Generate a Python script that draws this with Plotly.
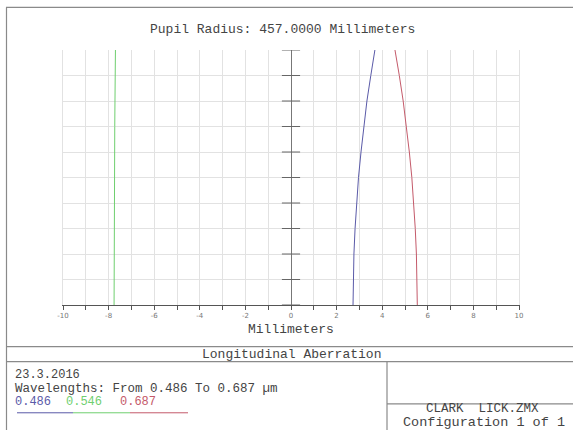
import plotly.graph_objects as go

# ---- data ----
pupil = [0.0, 0.1, 0.2, 0.3, 0.4, 0.5, 0.6, 0.7, 0.8, 0.9, 1.0]
blue_486 = [2.72, 2.73, 2.76, 2.81, 2.87, 2.96, 3.07, 3.19, 3.33, 3.50, 3.68]
green_546 = [-7.76, -7.76, -7.76, -7.75, -7.75, -7.74, -7.74, -7.73, -7.72, -7.71, -7.70]
red_687 = [5.54, 5.53, 5.50, 5.45, 5.38, 5.30, 5.19, 5.06, 4.92, 4.75, 4.56]
wavelengths = ["0.486", "0.546", "0.687"]
colors = ["#5a5aa8", "#6fcf6f", "#c45a6a"]
x_tick_vals = [-10, -8, -6, -4, -2, 0, 2, 4, 6, 8, 10]
x_tick_text = ["-10", "-8", "-6", "-4", "-2", "0", "2", "4", "6", "8", "10"]
center_ticks_y = [0.0, 0.1, 0.2, 0.3, 0.4, 0.5, 0.6, 0.7, 0.8, 0.9, 1.0]

W, H = 573, 430
L, R, T, B = 63, 519, 50, 305.5
MONO = "Courier New, Liberation Mono, monospace"
TXT = "#444444"


def px(x):
    return (x - L) / (R - L)


def py(y):
    return (B - y) / (B - T)


fig = go.Figure()
for xs, c in zip([blue_486, green_546, red_687], colors):
    fig.add_trace(go.Scatter(x=xs, y=pupil, mode="lines",
                             line=dict(color=c, width=1), showlegend=False,
                             hoverinfo="skip"))
# tick marks on the central vertical axis
fig.add_trace(go.Scatter(x=[0] * len(center_ticks_y), y=center_ticks_y, mode="markers",
                         marker=dict(symbol="line-ew", size=13,
                                     line=dict(width=1, color="#666666")),
                         showlegend=False, hoverinfo="skip"))

shapes = []


def hline(y, x0, x1, color="#8a8a8a", w=1.2):
    shapes.append(dict(type="line", xref="paper", yref="paper",
                       x0=px(x0), x1=px(x1), y0=py(y), y1=py(y),
                       line=dict(color=color, width=w)))


def vline(x, y0, y1, color="#8a8a8a", w=1.2):
    shapes.append(dict(type="line", xref="paper", yref="paper",
                       x0=px(x), x1=px(x), y0=py(y0), y1=py(y1),
                       line=dict(color=color, width=w)))


# outer frame and bottom panel lines
hline(7.3, 6, 580)
vline(6.5, 7.3, 440)
hline(347.3, 6, 580)
hline(362.3, 6, 580)
vline(387, 362.3, 440)
hline(404.5, 387, 580)
# wavelength legend lines
hline(413.5, 17, 73, colors[0], 1)
hline(413.5, 73, 130, colors[1], 1)
hline(413.5, 130, 188, colors[2], 1)

annotations = []


def text(s, x, y, size=13, color=TXT, anchor="center"):
    annotations.append(dict(text=s, xref="paper", yref="paper", x=px(x), y=py(y),
                            xanchor=anchor, yanchor="middle", showarrow=False,
                            font=dict(family=MONO, size=size, color=color)))


text("Pupil Radius: 457.0000 Millimeters", 282, 29)
text("Millimeters", 291, 330)
text("Longitudinal Aberration", 291, 355)
text("23.3.2016", 13, 376, size=12, anchor="left")
text("Wavelengths: From 0.486 To 0.687 µm", 13, 389.5, size=12.5, anchor="left")
text(wavelengths[0], 13, 402.5, size=12, color=colors[0], anchor="left")
text(wavelengths[1], 64, 402.5, size=12, color=colors[1], anchor="left")
text(wavelengths[2], 118, 402.5, size=12, color=colors[2], anchor="left")
text("CLARK  LICK.ZMX", 482, 410, size=12.5)
text("Configuration 1 of 1", 484, 423.5, size=13.5)

fig.update_layout(
    width=W, height=H,
    margin=dict(l=L, r=W - R, t=T, b=H - B, pad=0),
    paper_bgcolor="white", plot_bgcolor="white",
    shapes=shapes, annotations=annotations,
    xaxis=dict(range=[-10, 10], tickvals=x_tick_vals, ticktext=x_tick_text,
               showgrid=True, gridcolor="#e2e2e2", gridwidth=1,
               zeroline=True, zerolinecolor="#777777", zerolinewidth=1,
               showline=True, linecolor="#555555", linewidth=1,
               ticks="outside", ticklen=4, tickcolor="#555555", tickwidth=1,
               tickfont=dict(family="DejaVu Sans", size=7, color="#777777"),
               minor=dict(dtick=1, ticks="outside", ticklen=4, tickcolor="#555555",
                          showgrid=True, gridcolor="#e2e2e2")),
    yaxis=dict(range=[0, 1], dtick=0.1, showticklabels=False,
               showgrid=True, gridcolor="#e2e2e2", gridwidth=1, zeroline=False,
               showline=True, mirror=True, linecolor="#e2e2e2", linewidth=1),
)

fig.write_html("out.html", config={"displayModeBar": False},
               post_script="document.body.style.margin='0';document.body.style.overflow='hidden';")
